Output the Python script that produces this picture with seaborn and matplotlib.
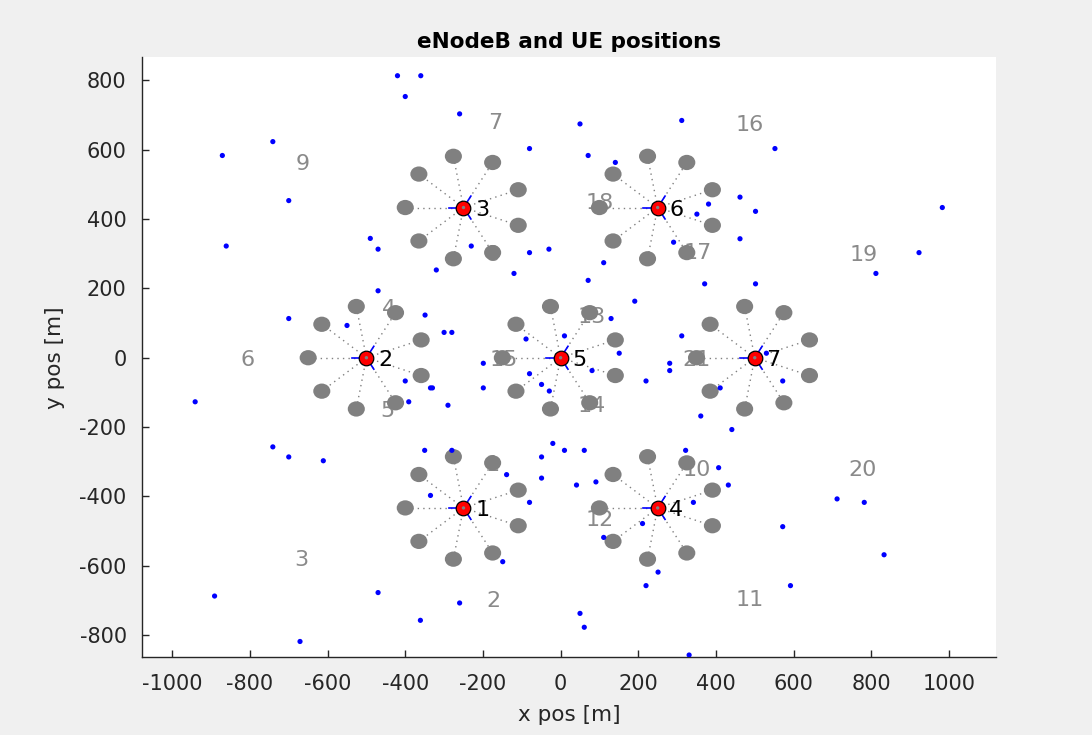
import numpy as np
import pandas as pd
import matplotlib
matplotlib.use("Agg")
import matplotlib.pyplot as plt
from matplotlib.patches import Ellipse
import seaborn as sns

# ---------------- data ----------------
site_ids = [1, 2, 3, 4, 5, 6, 7]
site_x = [-250, -500, -250, 250, 0, 250, 500]
site_y = [-433, 0, 433, -433, 0, 433, 0]

# remote nodes around each site (angle in degrees, distance in m)
node_angles = [180, 140, 100, 60, 20, -20, -60, -100, -140]
node_radius = 150
node_size = 44

# antenna direction lines of each site (degrees), length in m
antenna_angles = [180, 60, -60]
antenna_len = 38

sector_ids = list(range(1, 22))
sector_x = [-175, -172, -668, -443, -445, -805, -169, -175, -664, 350, 486,
            101, 80, 80, -146, 487, 354, 101, 781, 778, 350]
sector_y = [-303, -695, -577, 145, -149, 0, 683, 303, 564, -317, -692,
            -463, 124, -132, 0, 678, 308, 452, 301, -319, 0]

ue_x = [-420, -360, -400, -741, -871, -700, -861, -490, -470, -470, -700, -550, -349,
        -260, 50, 312, -80, 71, 141, 381, 351, 291, -230, -80, -30, -320, -120, 111,
        71, 371, 191, 130, 10, -89, -300, -280, 312, 151,
        552, 462, 502, 462, 502, 983, 923, 812, 530,
        -941, -400, -335, -391, -741, -700, -611, -350, -335, -891, -470, -361, -671,
        -199, -330, -199, -290, -80, -49, -29, 81, 220, 281, 281, 361, -280, -20, 10,
        61, -49, -49, -139, -80, 41, 91, 322, 407, 342, 211, 111, -149, 251, 220,
        -260, 50, 61, 331,
        572, 411, 441, 432, 712, 782, 572, 833, 592]
ue_y = [813, 813, 753, 623, 583, 453, 322, 344, 313, 193, 113, 93, 123,
        703, 674, 684, 603, 583, 563, 443, 414, 333, 322, 303, 313, 253, 243, 274,
        223, 213, 163, 113, 63, 54, 73, 73, 63, 13,
        603, 463, 422, 343, 213, 433, 303, 243, 13,
        -127, -67, -87, -127, -257, -286, -297, -267, -397, -687, -677, -757, -818,
        -16, -87, -87, -137, -46, -77, -96, -37, -67, -16, -37, -168, -267, -247, -267,
        -267, -286, -347, -337, -417, -367, -358, -267, -317, -417, -478, -518, -588, -618, -657,
        -707, -737, -777, -857,
        -67, -87, -207, -367, -407, -417, -487, -568, -657]

x_ticks = list(range(-1000, 1001, 200))
y_ticks = list(range(-800, 801, 200))

# ---------------- style ----------------
plt.rcParams["axes.unicode_minus"] = False
plt.rcParams["font.family"] = ["DejaVu Sans"]
axis_col = "#262626"

fig = plt.figure(figsize=(10.92, 7.35), dpi=100, facecolor="#f0f0f0")
ax = fig.add_axes([0.130, 0.106, 0.782, 0.816])
ax.set_facecolor("white")

gray = "#808080"

# sector labels (under everything)
for sid, sx, sy in zip(sector_ids, sector_x, sector_y):
    ax.text(sx, sy, str(sid), color="#8a8a8a", fontsize=16,
            ha="center", va="center_baseline", zorder=1)

# remote nodes & dotted links
for cx, cy in zip(site_x, site_y):
    for a in node_angles:
        nx = cx + node_radius * np.cos(np.radians(a))
        ny = cy + node_radius * np.sin(np.radians(a))
        ax.plot([cx, nx], [cy, ny], linestyle=(0, (1, 3)), color=gray,
                linewidth=1.0, zorder=2)
        ax.add_patch(Ellipse((nx, ny), node_size, node_size, facecolor=gray,
                             edgecolor="none", zorder=3))

# UEs
ue_df = pd.DataFrame({"x": ue_x, "y": ue_y})
sns.scatterplot(data=ue_df, x="x", y="y", ax=ax, color="#0000ff", s=14,
                edgecolor="none", zorder=4, legend=False)

# antenna direction lines
for cx, cy in zip(site_x, site_y):
    for a in antenna_angles:
        ax.plot([cx, cx + antenna_len * np.cos(np.radians(a))],
                [cy, cy + antenna_len * np.sin(np.radians(a))],
                color="#0000ff", linewidth=1.2, zorder=5)

# eNodeBs
site_df = pd.DataFrame({"x": site_x, "y": site_y, "id": site_ids})
sns.scatterplot(data=site_df, x="x", y="y", ax=ax, color="#ff0000", s=110,
                edgecolor="black", linewidth=0.9, zorder=6, legend=False)
sns.scatterplot(data=site_df, x="x", y="y", ax=ax, color=gray, s=6,
                edgecolor="none", zorder=7, legend=False)
for sid, sx, sy in zip(site_ids, site_x, site_y):
    ax.text(sx + 30, sy, str(sid), color="black", fontsize=16,
            ha="left", va="center_baseline", zorder=8)

# axes
ax.set_xlim(-1078, 1121)
ax.set_ylim(-863, 866)
ax.set_xticks(x_ticks)
ax.set_yticks(y_ticks)
ax.tick_params(direction="in", length=5, width=1, colors=axis_col,
               labelsize=15)
ax.tick_params(axis="x", pad=12)
ax.tick_params(axis="y", pad=11)
for side in ["top", "right"]:
    ax.spines[side].set_visible(False)
for side in ["left", "bottom"]:
    ax.spines[side].set_color(axis_col)
    ax.spines[side].set_linewidth(1.0)

ax.set_xlabel("x pos [m]", fontsize=15.5, color=axis_col, labelpad=8)
ax.set_ylabel("y pos [m]", fontsize=15.5, color=axis_col, labelpad=10)
ax.set_title("eNodeB and UE positions", fontsize=15.5, fontweight="bold",
             color="black", pad=7)

fig.savefig("out.png", dpi=100, facecolor=fig.get_facecolor())
